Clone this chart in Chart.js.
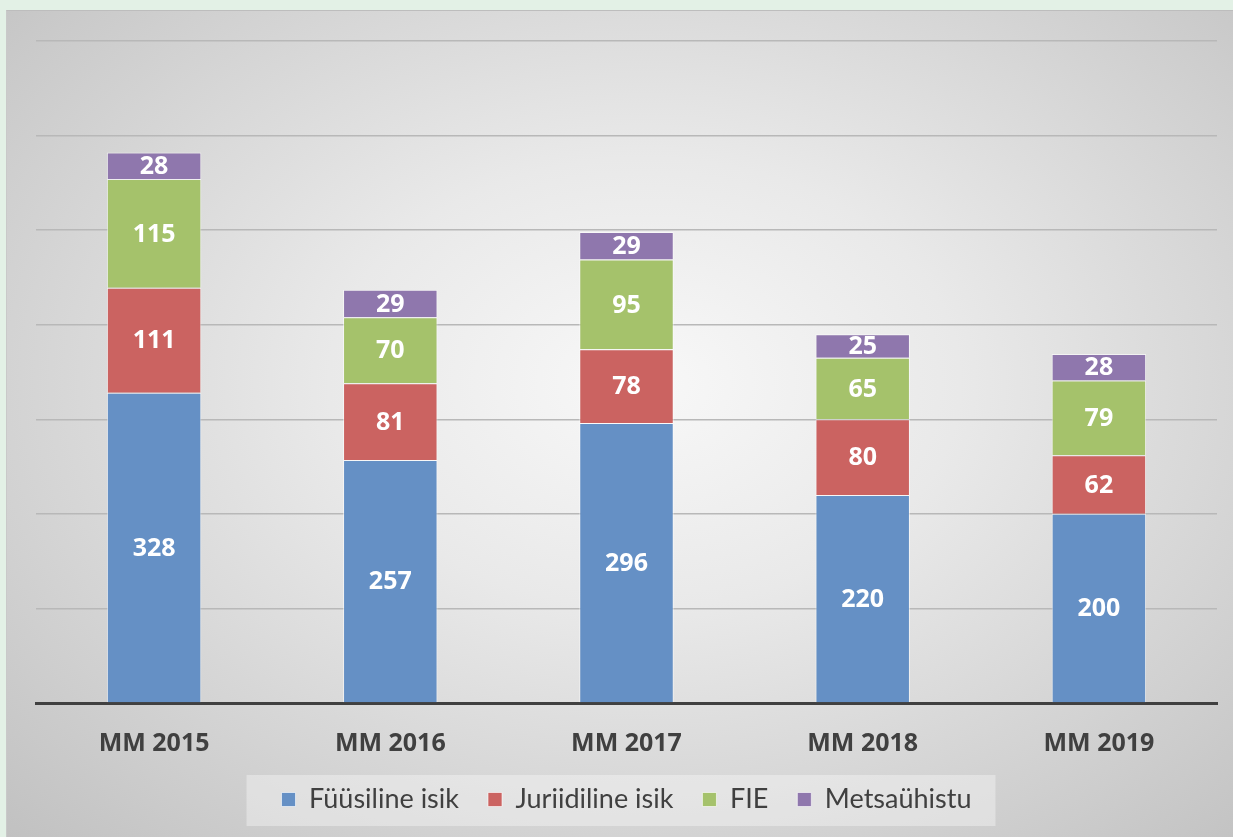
<!DOCTYPE html>
<html>
<head>
<meta charset="utf-8">
<script src="https://cdn.jsdelivr.net/npm/chart.js@4"></script>
<style>
  html, body { margin: 0; padding: 0; }
  body { width: 1233px; height: 837px; background: #e3f1e6; position: relative; overflow: hidden; }
  #panel {
    position: absolute; left: 6px; top: 10px; width: 1227px; height: 827px;
    border-top: 1px solid #bdbdbd; border-left: 1px solid #c9c9c9; box-sizing: border-box;
    background: radial-gradient(ellipse farthest-corner at 52% 45%, #f8f8f8 0%, #e9e9e9 35%, #c1c1c1 100%);
  }
  #wrap { position: absolute; left: 0; top: 0; width: 1226px; height: 826px; }
</style>
</head>
<body>
<div id="panel"><div id="wrap"><canvas id="chart"></canvas></div></div>
<script>
// 年別データ
const categories = ['MM 2015', 'MM 2016', 'MM 2017', 'MM 2018', 'MM 2019'];
const fyysiline = [328, 257, 296, 220, 200];
const juriidiline = [111, 81, 78, 80, 62];
const fie = [115, 70, 95, 65, 79];
const metsayhistu = [28, 29, 29, 25, 28];
const seriesNames = ['Füüsiline isik', 'Juriidiline isik', 'FIE', 'Metsaühistu'];
const seriesColors = ['#6590c5', '#cb6361', '#a5c26b', '#8f77ad'];

// セグメント中央に値を表示
const segmentLabels = {
    id: 'segmentLabels',
    afterDatasetsDraw(chart) {
        const ctx = chart.ctx;
        ctx.save();
        ctx.fillStyle = '#ffffff';
        ctx.font = 'bold 25px "Open Sans"';
        ctx.textAlign = 'center';
        ctx.textBaseline = 'middle';
        chart.data.datasets.forEach((ds, i) => {
            chart.getDatasetMeta(i).data.forEach((bar, j) => {
                const { x, y, base } = bar.getProps(['x', 'y', 'base'], true);
                ctx.fillText(String(ds.data[j]), x, (y + base) / 2 + 1);
            });
        });
        ctx.restore();
    }
};

// 凡例の背景ボックス
const legendBox = {
    id: 'legendBox',
    beforeDraw(chart) {
        const boxes = chart.legend.legendHitBoxes;
        if (!boxes || !boxes.length) return;
        const left = Math.min(...boxes.map(b => b.left)) - 35;
        const right = Math.max(...boxes.map(b => b.left + b.width)) + 24;
        const ctx = chart.ctx;
        ctx.save();
        ctx.fillStyle = 'rgba(255,255,255,0.35)';
        ctx.fillRect(left, 764, right - left, 51);
        ctx.restore();
    }
};

const ctx = document.getElementById('chart').getContext('2d');
new Chart(ctx, {
    type: 'bar',
    data: {
        labels: categories,
        datasets: [fyysiline, juriidiline, fie, metsayhistu].map((d, i) => ({
            label: seriesNames[i],
            data: d,
            backgroundColor: seriesColors[i],
            borderColor: 'rgba(255,255,255,0.6)',
            borderWidth: 1,
            categoryPercentage: 1,
            barPercentage: 0.4
        }))
    },
    options: {
        responsive: true,
        maintainAspectRatio: false,
        animation: false,
        layout: { padding: { left: 29, right: 16, top: 30, bottom: 14 } },
        plugins: {
            tooltip: { enabled: false },
            legend: {
                position: 'bottom',
                labels: {
                    boxWidth: 14,
                    boxHeight: 14,
                    padding: 29,
                    color: '#404040',
                    font: { family: 'Lato', size: 27 }
                }
            }
        },
        scales: {
            x: {
                stacked: true,
                grid: { display: false, drawTicks: false },
                border: { display: true, color: '#404040', width: 3 },
                ticks: { color: '#404040', padding: 26, font: { family: '"Open Sans"', size: 25, weight: 'bold' } },
                afterFit: s => { s.height = 54; }
            },
            y: {
                stacked: true,
                min: 0,
                max: 700,
                ticks: { display: false, stepSize: 100 },
                grid: { color: '#b8b8b8', lineWidth: 1.5, drawTicks: false },
                border: { display: false },
                afterFit: s => { s.width = 0; }
            }
        }
    },
    plugins: [segmentLabels, legendBox]
});
</script>
</body>
</html>
